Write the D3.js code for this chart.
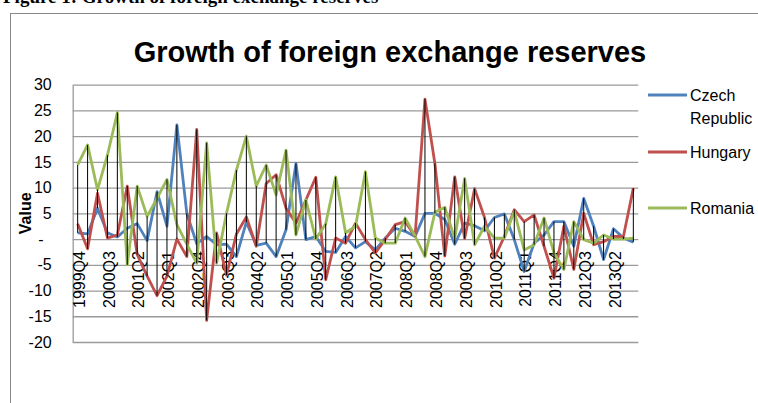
<!DOCTYPE html>
<meta charset="utf-8">
<script src="https://d3js.org/d3.v7.min.js"></script>
<style>
body { margin: 0; background: #fff; }
.tick text { font: 16px "Liberation Sans", Arial, sans-serif; fill: #000; }
.legendText { font: 16px "Liberation Sans", Arial, sans-serif; }
.axisTitle { font: bold 16px "Liberation Sans", Arial, sans-serif; }
.graphTitle { font: bold 29px "Liberation Sans", Arial, sans-serif; }
.caption { font: bold 19px "Liberation Serif", "Times New Roman", serif; }
</style>
<div id="my_dataviz"></div>
<script>

// quarters on the category axis
const quarters = [
  "1999Q4",
  "2000Q1","2000Q2","2000Q3","2000Q4",
  "2001Q1","2001Q2","2001Q3","2001Q4",
  "2002Q1","2002Q2","2002Q3","2002Q4",
  "2003Q1","2003Q2","2003Q3","2003Q4",
  "2004Q1","2004Q2","2004Q3","2004Q4",
  "2005Q1","2005Q2","2005Q3","2005Q4",
  "2006Q1","2006Q2","2006Q3","2006Q4",
  "2007Q1","2007Q2","2007Q3","2007Q4",
  "2008Q1","2008Q2","2008Q3","2008Q4",
  "2009Q1","2009Q2","2009Q3","2009Q4",
  "2010Q1","2010Q2","2010Q3","2010Q4",
  "2011Q1","2011Q2","2011Q3","2011Q4",
  "2012Q1","2012Q2","2012Q3","2012Q4",
  "2013Q1","2013Q2","2013Q3","2013Q4"
];

const czech = [1.2, 1.0, 6.0, 1.2, 0.4, 2.1, 3.0, -0.3, 9.2, 2.5,
  22.2, 5.0, -0.9, 0.5, -1.1, -1.0, -3.4, 3.3, -1.2, -0.8,
  -3.4, 1.8, 14.7, -0.1, 0.5, -2.4, -2.6, 0.5, -1.7, -0.5,
  -2.1, 0.2, 2.1, 1.5, 0.5, 5.0, 5.0, 3.8, -1.0, 3.1,
  2.6, 1.6, 4.2, 4.9, -0.1, -6.3, -0.8, 0.8, 3.4, 3.4,
  -1.4, 7.9, 2.5, -4.0, 2.0, 0.2, -0.6];

const hungary = [3.0, -1.9, 8.9, 0.2, 0.8, 10.3, -3.0, -7.2, -11.0, -7.2,
  0.0, -3.4, 21.3, -15.8, 1.2, -7.0, 1.0, 4.3, -1.4, 10.8,
  12.5, 6.0, 3.1, 7.6, 12.0, -7.9, 0.2, -0.8, 3.1, -0.1,
  -2.7, -0.1, 2.8, 3.4, 0.5, 27.2, 14.7, -3.3, 12.1, 0.1,
  9.8, 4.2, -3.7, 0.5, 5.7, 3.4, 4.7, -1.4, -7.6, 2.5,
  -5.9, 5.0, -1.1, -0.5, 0.5, 0.5, 9.9];

const romania = [14.4, 18.3, 9.6, 16.3, 24.6, -5.0, 10.3, 4.4, 7.9, 11.6,
  2.8, -1.0, -4.7, 18.7, -4.7, 5.0, 13.4, 20.0, 10.3, 14.4,
  8.6, 17.3, 0.8, 7.6, 0.0, 3.0, 12.1, 1.2, 2.5, 13.1,
  0.2, -0.8, -0.8, 4.1, 0.6, -3.4, 5.2, 6.2, 0.1, 11.8,
  -1.1, 2.5, 0.2, 0.2, 5.4, -2.1, -1.1, 4.1, -2.7, -5.9,
  3.4, -0.1, -0.8, 0.8, 0.0, 0.0, 0.2];

const yTicks = [-20, -15, -10, -5, 0, 5, 10, 15, 20, 25, 30];

const seriesNames = ["Czech Republic", "Hungary", "Romania"];
const seriesColors = ["#4F81BD", "#C0504D", "#9BBB59"];
const allSeries = [czech, hungary, romania];

const W = 758, H = 403;
const plot = {left: 72.7, right: 638.3, top: 84.7, bottom: 342};

const svg = d3.select("#my_dataviz")
  .append("svg")
    .attr("width", W)
    .attr("height", H);

svg.append("rect").attr("width", W).attr("height", H).attr("fill", "#fff");

// caption of the document, mostly cut off at the top
svg.append("text")
  .attr("class", "caption")
  .attr("x", 3)
  .attr("y", 3)
  .text("Figure 1: Growth of foreign exchange reserves");

// chart area border
svg.append("rect")
  .attr("x", 10.5).attr("y", 13.5)
  .attr("width", 900).attr("height", 500)
  .attr("fill", "none")
  .attr("stroke", "#888")
  .attr("stroke-width", 1);

// title
svg.append("text")
  .attr("class", "graphTitle")
  .attr("text-anchor", "middle")
  .attr("x", 390)
  .attr("y", 62)
  .text("Growth of foreign exchange reserves");

const x = d3.scaleBand()
  .domain(quarters)
  .range([plot.left, plot.right])
  .padding(0);

const y = d3.scaleLinear()
  .domain([-20, 30])
  .range([plot.bottom, plot.top]);

const cx = q => x(q) + x.bandwidth() / 2;

// Y axis with gridlines
const fmt = v => v === 0 ? "-" : (v < 0 ? "-" + Math.abs(v) : String(v));
const yAxis = svg.append("g")
  .attr("transform", `translate(${plot.left},0)`)
  .call(d3.axisLeft(y)
    .tickValues(yTicks)
    .tickSize(-(plot.right - plot.left))
    .tickSizeOuter(0)
    .tickPadding(21)
    .tickFormat(fmt));
yAxis.select(".domain").attr("stroke", "#9a9a9a").attr("stroke-width", 1.3);
yAxis.selectAll(".tick line").attr("stroke", "#9a9a9a").attr("stroke-width", 1.3);
yAxis.selectAll(".tick text").filter(d => d === 0).attr("x", -29);

// Y axis title
svg.append("text")
  .attr("class", "axisTitle")
  .attr("text-anchor", "middle")
  .attr("transform", `translate(31,${(plot.top + plot.bottom) / 2}) rotate(-90)`)
  .text("Value");

// category labels, every third quarter, crossing at zero
const xAxis = svg.append("g")
  .attr("transform", `translate(0,${y(0)})`)
  .call(d3.axisBottom(x)
    .tickValues(quarters.filter((q, i) => i % 3 === 0))
    .tickSize(0));
xAxis.select(".domain").remove();
xAxis.selectAll(".tick text")
  .attr("transform", "rotate(-90)")
  .attr("text-anchor", "end")
  .attr("x", -12)
  .attr("y", 1.5)
  .attr("dy", "0.35em");

// series lines
const line = d3.line()
  .x((d, i) => cx(quarters[i]))
  .y(d => y(d));

allSeries.forEach((s, k) => {
  svg.append("path")
    .datum(s)
    .attr("fill", "none")
    .attr("stroke", seriesColors[k])
    .attr("stroke-width", 2.8)
    .attr("stroke-linejoin", "round")
    .attr("d", line);
});

// high-low lines
svg.append("g")
  .selectAll("line")
  .data(quarters)
  .join("line")
    .attr("x1", d => cx(d))
    .attr("x2", d => cx(d))
    .attr("y1", (d, i) => y(d3.max(allSeries, s => s[i])))
    .attr("y2", (d, i) => y(d3.min(allSeries, s => s[i])))
    .attr("stroke", "#000")
    .attr("stroke-width", 1);

// legend
const legendY = [95, 152, 208];
seriesNames.forEach((name, k) => {
  const g = svg.append("g").attr("transform", `translate(648,${legendY[k]})`);
  g.append("line")
    .attr("x1", 0).attr("x2", 39)
    .attr("stroke", seriesColors[k])
    .attr("stroke-width", 2.8);
  const t = g.append("text")
    .attr("class", "legendText")
    .attr("x", 42)
    .attr("dy", "0.35em");
  name.split(" ").forEach((w, j) => {
    t.append("tspan").attr("x", 42).attr("dy", j === 0 ? "0.35em" : "1.45em").text(w);
  });
});

</script>
